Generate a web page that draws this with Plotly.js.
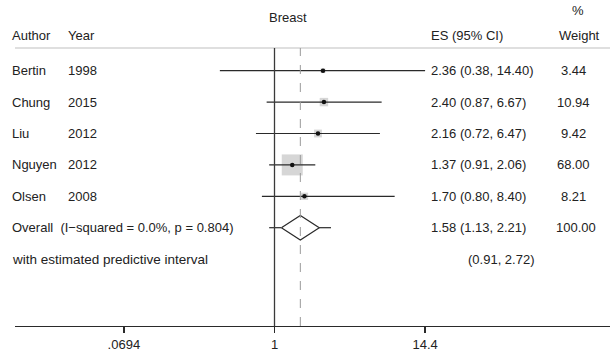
<!DOCTYPE html>
<html>
<head>
<meta charset="utf-8">
<script src="https://cdn.plot.ly/plotly-3.0.1.min.js"></script>
<style>html,body{margin:0;padding:0;background:#fff;}#chart{width:610px;height:354px;}</style>
</head>
<body>
<div id="chart"></div>
<script>
// ---- data ----
const authors = ['Bertin', 'Chung', 'Liu', 'Nguyen', 'Olsen'];
const years = ['1998', '2015', '2012', '2012', '2008'];
const es = [2.36, 2.40, 2.16, 1.37, 1.70];
const ciLow = [0.38, 0.87, 0.72, 0.91, 0.80];
const ciHigh = [14.40, 6.67, 6.47, 2.06, 8.40];
const weights = [3.44, 10.94, 9.42, 68.00, 8.21];
const overallES = 1.58, overallLow = 1.13, overallHigh = 2.21, overallWeight = 100.00;
const predLow = 0.91, predHigh = 2.72;
const nullValue = 1;
const overallLabel = 'Overall  (I\u2212squared = 0.0%, p = 0.804)';
const predLabel = 'with estimated predictive interval';
const tickVals = [0.0694, 1, 14.4];
const tickText = ['.0694', '1', '14.4'];
const subgroup = 'Breast';

// ---- layout helpers ----
const W = 610, H = 354;
const mL = 15, mR = 0, mT = 48, mB = 28;
const plotW = W - mL - mR;
const plotH = H - mT - mB;
const px = p => (p - mL) / plotW;           // pixel x -> paper x
const py = p => 1 + (mT - p) / plotH;       // pixel y -> paper y
const txtColor = '#222';
const fontFam = '"Liberation Sans", Arial, Helvetica, sans-serif';
const fs = 13;

const n = authors.length;
const rows = authors.map((_, i) => i);
const overallRow = n, predRow = n + 1;
const fmt = v => v.toFixed(2);

// CI lines
const ciX = [], ciY = [];
rows.forEach(i => { ciX.push(ciLow[i], ciHigh[i], null); ciY.push(i, i, null); });

const sizeK = 21 / Math.sqrt(Math.max(...weights));
const dh = 0.39;

const traces = [
  { x: es, y: rows, mode: 'markers', type: 'scatter', hoverinfo: 'skip',
    marker: { symbol: 'square', color: '#c4c4c4', size: weights.map(w => sizeK * Math.sqrt(w)), line: { width: 0 } } },
  { x: ciX, y: ciY, mode: 'lines', type: 'scatter', hoverinfo: 'skip',
    line: { color: '#2a2a2a', width: 1.2 } },
  { x: es, y: rows, mode: 'markers', type: 'scatter', hoverinfo: 'skip',
    marker: { symbol: 'circle', color: '#111', size: 4.5 } },
  { x: [overallLow, overallES, overallHigh, overallES, overallLow],
    y: [overallRow, overallRow - dh, overallRow, overallRow + dh, overallRow],
    mode: 'lines', type: 'scatter', hoverinfo: 'skip', line: { color: '#2a2a2a', width: 1.2 } },
  { x: [predLow, overallLow, null, overallHigh, predHigh],
    y: [overallRow, overallRow, null, overallRow, overallRow],
    mode: 'lines', type: 'scatter', hoverinfo: 'skip', line: { color: '#2a2a2a', width: 1.2 } }
];

const ann = [];
const addT = (text, x, y, opts = {}) => ann.push(Object.assign({
  text, x, y, xref: 'paper', yref: 'y', xanchor: 'left', yanchor: 'middle',
  showarrow: false, font: { family: fontFam, size: fs, color: txtColor }
}, opts));

addT('Author', px(10), py(35), { yref: 'paper' });
addT('Year', px(66), py(35), { yref: 'paper' });
addT(subgroup, px(288), py(17.5), { yref: 'paper', xanchor: 'center' });
addT('ES (95% CI)', px(429), py(35), { yref: 'paper' });
addT('%', px(578), py(11), { yref: 'paper', xanchor: 'center' });
addT('Weight', px(579), py(35), { yref: 'paper', xanchor: 'center' });

rows.forEach(i => {
  addT(authors[i], px(10), i);
  addT(years[i], px(66), i);
  addT(`${fmt(es[i])} (${fmt(ciLow[i])}, ${fmt(ciHigh[i])})`, px(429), i);
  addT(fmt(weights[i]), px(573), i, { xanchor: 'center' });
});
addT(overallLabel, px(10), overallRow);
addT(`${fmt(overallES)} (${fmt(overallLow)}, ${fmt(overallHigh)})`, px(429), overallRow);
addT(fmt(overallWeight), px(576), overallRow, { xanchor: 'center' });
addT(predLabel, px(10), predRow, { font: { family: fontFam, size: 13.5, color: txtColor } });
addT(`(${fmt(predLow)}, ${fmt(predHigh)})`, px(466), predRow);

// axis ranges
const pxPerLog = 130;
const x1px = 274.5;
const xRange = [(mL - x1px) / pxPerLog, (W - mR - x1px) / pxPerLog];
const rowPx = 31.4, row0px = 70.7;
const yTop = -(row0px - mT) / rowPx;
const yBot = (H - mB - row0px) / rowPx;

const layout = {
  width: W, height: H,
  margin: { l: mL, r: mR, t: mT, b: mB, pad: 0 },
  paper_bgcolor: '#fff', plot_bgcolor: '#fff',
  showlegend: false,
  font: { family: fontFam, size: fs, color: txtColor },
  xaxis: {
    type: 'log', range: xRange, showgrid: false, zeroline: false,
    showline: true, linecolor: '#2a2a2a', linewidth: 1.3,
    ticks: 'outside', ticklen: 6, tickcolor: '#2a2a2a', tickwidth: 1.3,
    tickvals: tickVals, ticktext: tickText,
    tickfont: { family: fontFam, size: fs, color: txtColor }
  },
  yaxis: {
    range: [yBot, yTop], showgrid: false, zeroline: false, showline: false,
    showticklabels: false, ticks: ''
  },
  shapes: [
    { type: 'line', xref: 'paper', yref: 'paper', x0: 0, x1: 1, y0: 1, y1: 1,
      line: { color: '#c0c0c0', width: 1.2 } },
    { type: 'line', xref: 'x', yref: 'paper', x0: nullValue, x1: nullValue, y0: 0, y1: 1,
      line: { color: '#3a3a3a', width: 1.3 } },
    { type: 'line', xref: 'x', yref: 'paper', x0: overallES, x1: overallES, y0: 0, y1: 1,
      line: { color: '#9a9a9a', width: 1, dash: 'dash' } }
  ],
  annotations: ann
};

Plotly.newPlot('chart', traces, layout, { staticPlot: true, displayModeBar: false });
</script>
</body>
</html>
